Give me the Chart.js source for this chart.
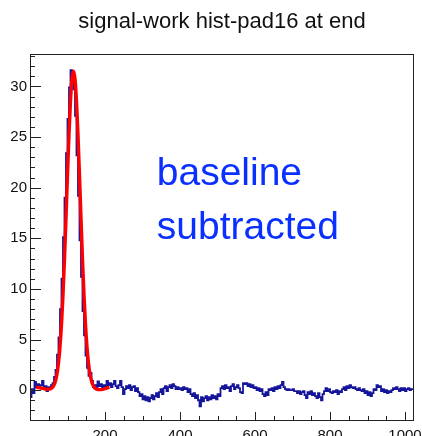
<!DOCTYPE html>
<html>
<head>
<meta charset="utf-8">
<title>signal-work hist-pad16 at end</title>
<script src="https://cdn.jsdelivr.net/npm/chart.js@4.4.1/dist/chart.umd.min.js"></script>
<style>
  html, body { margin: 0; padding: 0; background: #ffffff; }
  canvas { display: block; }
</style>
</head>
<body>
<canvas id="c" width="422" height="436"></canvas>
<script>
// histogram: 256 bins of width 4 over 0..1024
const binWidth = 4;
const histValues = [
  -0.4, -0.7, 0.1, -0.3, 0.8, 0.3, 0.6, 0.2, 0.5, 0.9, 0.1, 0.4, -0.1, 0.3, 0.2, 0.5,
  0.7, 1.3, 2.0, 3.5, 5.2, 8.0, 11.0, 15.1, 19.0, 23.4, 26.8, 29.9, 31.6, 31.1, 29.7, 27.1,
  23.2, 19.2, 14.8, 11.2, 7.8, 5.4, 3.4, 2.2, 1.4, 1.7, 0.9, 0.3, 0.5, 0.2, 0.85, 0.4,
  0.6, 0.3, 0.5, 0.2, 0.9, 0.5, 0.7, 0.3, 0.6, 0.9, 0.4, 0.2, 0.5, 0.9, 0.3, -0.4,
  0.1, 0.4, 0.2, 0.5, 0.0, 0.3, 0.4, -0.1, 0.2, -0.2, -0.6, -0.4, -0.9, -0.6, -1.0, -0.7,
  -1.1, -0.8, -0.5, -0.9, -0.6, -0.3, -0.7, -0.2, 0.1, -0.4, 0.2, 0.4, -0.1, 0.3, 0.5, 0.2,
  0.6, 0.4, 0.1, 0.3, 0.1, 0.2, 0.0, 0.3, 0.1, 0.2, -0.2, 0.1, -0.4, -0.6, -0.3, -0.8,
  -0.5, -1.0, -1.6, -0.7, -1.1, -0.8, -0.6, -1.0, -0.7, -0.9, -0.5, -0.8, -0.6, -0.9, -0.4, -0.6,
  0.2, 0.4, 0.1, 0.5, 0.2, 0.3, -0.1, 0.4, 0.6, 0.1, 0.3, 0.5, 0.2, -0.2, -0.3, 0.7,
  0.6, 0.7, 0.4, 0.6, 0.3, 0.5, 0.2, 0.3, 0.0, 0.2, -0.1, 0.1, -0.4, -0.6, -0.2, -0.5,
  0.1, 0.0, 0.2, -0.1, 0.3, 0.1, 0.4, 0.2, 0.5, 0.8, 0.3, 0.1, 0.0, 0.1, 0.0, 0.0,
  0.1, -0.1, -0.1, -0.3, -0.1, -0.4, -0.2, -0.1, -0.5, -0.8, -0.2, -0.4, -0.1, -0.5, -0.3, -0.6,
  -0.8, -0.3, -0.7, -1.0, -0.4, -0.1, 0.2, -0.1, 0.1, -0.2, -0.3, -0.1, -0.2, 0.0, -0.4, -0.1,
  -0.2, 0.1, 0.3, 0.0, 0.4, 0.2, 0.5, 0.3, 0.2, 0.3, 0.1, 0.0, 0.2, 0.0, -0.1, 0.1,
  -0.3, -0.1, -0.5, -0.2, -0.6, -0.3, 0.1, 0.0, 0.5, 0.3, 0.4, -0.1, 0.1, -0.2, 0.0, -0.3,
  -0.1, -0.2, 0.0, 0.2, 0.1, 0.3, 0.1, -0.1, 0.2, 0.0, 0.2, -0.1, 0.1, 0.2, 0.0, 0.1
];

// fitted curve
const fitX = [16, 20, 24, 28, 32, 36, 40, 44, 48, 52, 56, 60, 64, 68, 72, 76, 80, 84, 88, 92,
  96, 100, 104, 108, 112, 116, 120, 124, 128, 132, 136, 140, 144, 148, 152, 156, 160, 164,
  168, 172, 176, 180, 184, 188, 192, 196, 200, 204, 208, 212];
const fitY = [0.28, 0.26, 0.24, 0.21, 0.18, 0.15, 0.12, 0.09, 0.07, 0.10, 0.15, 0.27, 0.50,
  0.90, 1.59, 2.67, 4.26, 6.49, 9.39, 12.95, 16.99, 21.22, 25.22, 28.54, 30.73, 31.5, 30.73,
  28.54, 25.22, 21.22, 16.99, 12.95, 9.39, 6.49, 4.26, 2.67, 1.59, 0.90, 0.49, 0.25, 0.12,
  0.06, 0.05, 0.05, 0.07, 0.10, 0.14, 0.19, 0.24, 0.30];

const xMajorTicks = [0, 200, 400, 600, 800, 1000];
const xTickLabels = ['', '200', '400', '600', '800', '1000'];
const yMajorTicks = [0, 5, 10, 15, 20, 25, 30];
const yTickLabels = ['0', '5', '10', '15', '20', '25', '30'];

const titleText = 'signal-work hist-pad16 at end';
const noteLines = ['baseline', 'subtracted'];

const histPoints = histValues.map((v, i) => ({ x: i * binWidth, y: v }));
histPoints.push({ x: histValues.length * binWidth, y: histValues[histValues.length - 1] });
const fitPoints = fitX.map((x, i) => ({ x: x, y: fitY[i] }));

const FONT = "'Liberation Sans', Arial, Helvetica, sans-serif";

const rootAxes = {
  id: 'rootAxes',
  afterDraw(chart) {
    const ctx = chart.ctx;
    const a = chart.chartArea;
    const xs = chart.scales.x, ys = chart.scales.y;
    ctx.save();

    // note text in the pad
    ctx.fillStyle = '#0a30ff';
    ctx.font = '39px ' + FONT;
    ctx.textAlign = 'left';
    ctx.textBaseline = 'alphabetic';
    ctx.fillText(noteLines[0], xs.getPixelForValue(338), ys.getPixelForValue(20.3));
    ctx.fillText(noteLines[1], xs.getPixelForValue(338), ys.getPixelForValue(14.9));

    // frame
    ctx.strokeStyle = '#222';
    ctx.lineWidth = 1;
    ctx.strokeRect(Math.round(a.left) + 0.5, Math.round(a.top) + 0.5,
      Math.round(a.right - a.left) - 1, Math.round(a.bottom - a.top) - 1);

    // y ticks inside, on the left
    ctx.beginPath();
    for (let v = -3; v <= 33; v++) {
      const py = Math.round(ys.getPixelForValue(v)) + 0.5;
      const len = v % 5 === 0 ? 11 : 5;
      ctx.moveTo(a.left, py);
      ctx.lineTo(a.left + len, py);
    }
    // x ticks inside, at the bottom
    for (let v = 0; v <= 1024; v += 50) {
      const px = Math.round(xs.getPixelForValue(v)) + 0.5;
      const len = v % 200 === 0 ? 9 : 5;
      ctx.moveTo(px, a.bottom);
      ctx.lineTo(px, a.bottom - len);
    }
    ctx.stroke();

    // labels
    ctx.fillStyle = '#111';
    ctx.font = '15px ' + FONT;
    ctx.textAlign = 'right';
    ctx.textBaseline = 'middle';
    yMajorTicks.forEach((v, i) => {
      ctx.fillText(yTickLabels[i], a.left - 3, ys.getPixelForValue(v));
    });
    ctx.textAlign = 'center';
    ctx.textBaseline = 'alphabetic';
    xMajorTicks.forEach((v, i) => {
      ctx.fillText(xTickLabels[i], xs.getPixelForValue(v), a.bottom + 19);
    });

    // title
    ctx.font = '22px ' + FONT;
    ctx.fillText(titleText, (a.left + a.right) / 2, 28);
    ctx.restore();
  }
};

new Chart(document.getElementById('c'), {
  type: 'line',
  data: {
    datasets: [
      {
        label: 'fit',
        data: fitPoints,
        borderColor: '#ff0000',
        borderWidth: 3.4,
        pointRadius: 0,
        tension: 0.4,
        cubicInterpolationMode: 'monotone',
        order: 0
      },
      {
        label: 'hist',
        data: histPoints,
        borderColor: '#15159a',
        borderWidth: 1.8,
        pointRadius: 0,
        stepped: 'after',
        order: 1
      }
    ]
  },
  options: {
    responsive: false,
    animation: false,
    events: [],
    layout: { padding: { left: 30, right: 8, top: 54, bottom: 15 } },
    plugins: {
      legend: { display: false },
      title: { display: false },
      tooltip: { enabled: false }
    },
    scales: {
      x: { type: 'linear', min: 0, max: 1024, display: false },
      y: { type: 'linear', min: -3.05, max: 33.2, display: false }
    }
  },
  plugins: [rootAxes]
});
</script>
</body>
</html>
